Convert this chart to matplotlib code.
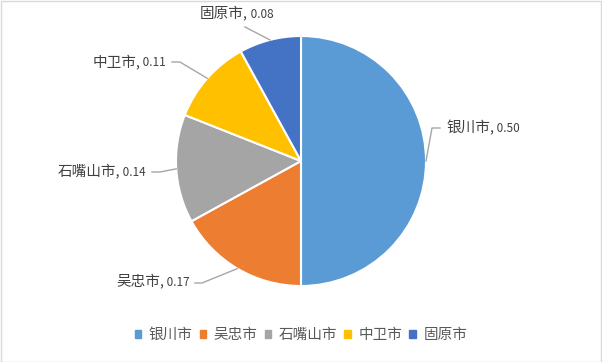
import matplotlib.pyplot as plt
import numpy as np
from matplotlib.patches import Rectangle

plt.rcParams['font.family'] = ['Noto Sans CJK SC', 'DejaVu Sans']

cities = ['银川市', '吴忠市', '石嘴山市', '中卫市', '固原市']
shares = [0.50, 0.17, 0.14, 0.11, 0.08]
colors = ['#5B9BD5', '#ED7D31', '#A5A5A5', '#FFC000', '#4472C4']

W, H = 602, 362
cx, cy, R = 301, 161, 125

fig = plt.figure(figsize=(W / 100, H / 100), dpi=100)
fig.patches.append(Rectangle((0.5 / W, 0.5 / H), 1 - 1.5 / W, 1 - 1.5 / H,
                             transform=fig.transFigure, fill=False,
                             edgecolor='#D9D9D9', linewidth=1))

ax = fig.add_axes([(cx - R) / W, (H - cy - R) / H, 2 * R / W, 2 * R / H])
wedges, _ = ax.pie(shares, colors=colors, startangle=90, counterclock=False,
                   radius=1, wedgeprops=dict(edgecolor='white', linewidth=1.5))
ax.set_xlim(-1, 1)
ax.set_ylim(-1, 1)
ax.set_aspect('equal')
ax.axis('off')


def px(x, y):
    return (x - cx) / R, (cy - y) / R


# label layout in pixels: elbow point, line end, text anchor, alignment
layout = [
    ((432, 128), (440, 128), (446, 128), 'left'),
    ((202, 283), (195, 283), (190, 282), 'right'),
    ((160, 172), (152, 172), (146, 172), 'right'),
    ((180, 62), (172, 62), (166, 63), 'right'),
    ((245, 27), (245, 27), (237, 14), 'center'),
]

cum = np.cumsum([0] + shares)
for i, (name, val) in enumerate(zip(cities, shares)):
    mid = np.deg2rad(90 - (cum[i] + val / 2) * 360)
    ex, ey = np.cos(mid), np.sin(mid)
    elbow, end, tpos, ha = layout[i]
    e1 = px(*elbow)
    e2 = px(*end)
    ax.plot([ex, e1[0], e2[0]], [ey, e1[1], e2[1]], color='#A6A6A6', lw=1,
            clip_on=False)
    t = px(*tpos)
    name_t = ax.text(t[0], t[1], name + ',', fontsize=10.5, color='#404040',
                     ha='left', va='center')
    val_t = ax.text(t[0], t[1], ' %.2f' % val, fontsize=8.5, color='#404040',
                    ha='left', va='center')
    fig.canvas.draw()
    r = fig.canvas.get_renderer()
    wn = name_t.get_window_extent(r).width
    wv = val_t.get_window_extent(r).width
    tw = (wn + wv) / R
    if ha == 'left':
        x0 = t[0]
    elif ha == 'right':
        x0 = t[0] - tw
    else:
        x0 = t[0] - tw / 2
    name_t.set_x(x0)
    val_t.set_x(x0 + wn / R)

handles = [Rectangle((0, 0), 1, 1, color=c) for c in colors]
fig.legend(handles, cities, loc='center', bbox_to_anchor=(cx / W, 1 - 335 / H),
           ncol=5, frameon=False, fontsize=10.5, labelcolor='#595959',
           handlelength=0.45, handleheight=0.45, handletextpad=0.5,
           columnspacing=0.5)

fig.savefig('out.png', dpi=100)
